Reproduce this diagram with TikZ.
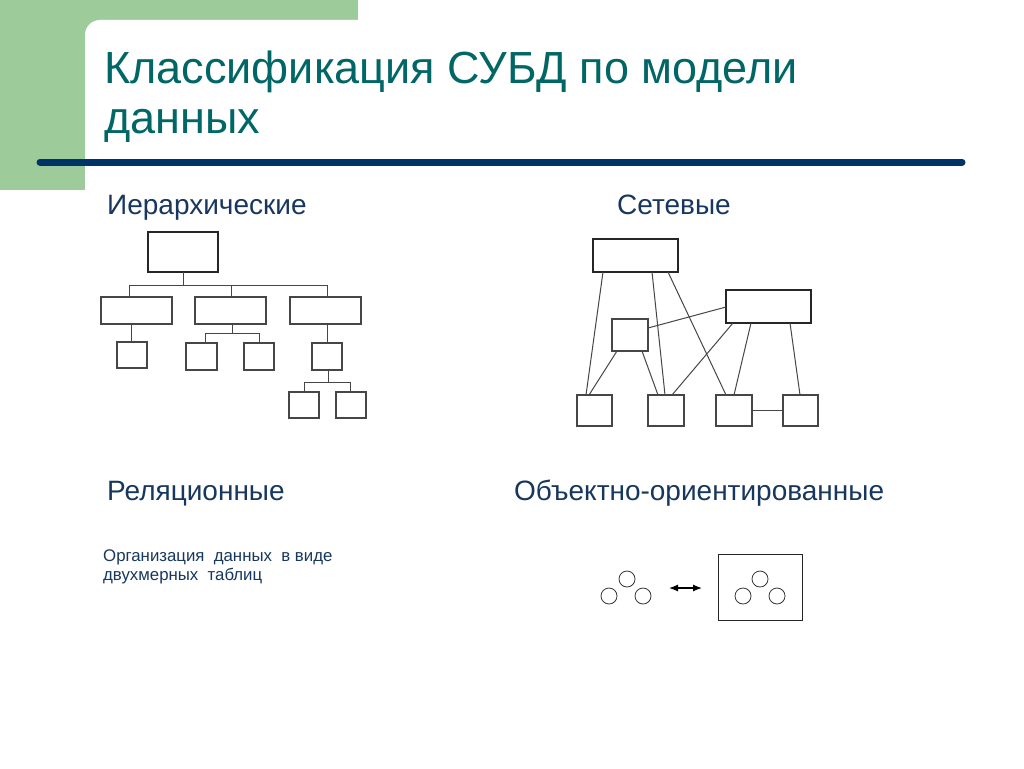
\documentclass[tikz,border=0pt]{standalone}
\usepackage{fontspec}
\setmainfont{Liberation Sans}
\usetikzlibrary{arrows.meta}
\definecolor{bggreen}{RGB}{157,204,154}
\definecolor{titleteal}{RGB}{0,102,102}
\definecolor{headblue}{RGB}{23,55,94}
\definecolor{rulenavy}{RGB}{0,51,102}
\definecolor{boxgray}{RGB}{70,70,70}
\tikzset{
  box/.style={draw=boxgray, line width=1.1pt},
  thickbox/.style={draw=black!85, line width=2pt},
  link/.style={draw=boxgray, line width=1pt},
  head/.style={anchor=base west, inner sep=0pt, text=headblue, font=\fontsize{28}{32}\selectfont},
  small/.style={anchor=base west, inner sep=0pt, text=headblue, font=\fontsize{16.8}{19}\selectfont},
  obj/.style={circle, draw=black!80, line width=0.8pt, minimum size=16pt, inner sep=0pt},
}
\begin{document}
\begin{tikzpicture}[x=1pt,y=-1pt]
\useasboundingbox (0,0) rectangle (1024,768);
\fill[white] (0,0) rectangle (1024,768);
% background decoration
\fill[bggreen] (0,0) rectangle (358,190);
\fill[white, rounded corners=15pt] (85,768) -- (85,20) -- (1024,20) -- (1024,768) -- cycle;
\draw[rulenavy, line width=7pt, line cap=round] (40,162) -- (962,162);
% title
\node[anchor=base west, inner sep=0pt, text=titleteal, font=\fontsize{45}{50}\selectfont] (t1) at (104,83) {Классификация СУБД по модели};
\node[anchor=base west, inner sep=0pt, text=titleteal, font=\fontsize{45}{50}\selectfont] (t2) at (104,133) {данных};
% headings
\node[head] (h1) at (107,214) {Иерархические};
\node[head] (h2) at (617,214) {Сетевые};
\node[head] (h3) at (107,500) {Реляционные};
\node[head] (h4) at (514,500) {Объектно-ориентированные};
\node[small] (rel1) at (103,561) {Организация\ \ данных\ \ в виде};
\node[small] (rel2) at (103,580) {двухмерных\ \ таблиц};

% ---------- hierarchical ----------
\draw[thickbox] (148,232) rectangle (218,272);
\draw[box] (101,297) rectangle (172,324);
\draw[box] (195,297) rectangle (266,324);
\draw[box] (290,297) rectangle (361,324);
\draw[link] (183,272) -- (183,285);
\draw[link] (129,297) -- (129,285) -- (327,285) -- (327,297);
\draw[link] (231,285) -- (231,297);
\draw[box] (117,342) rectangle (147,368);
\draw[link] (131,324) -- (131,342);
\draw[box] (186,343) rectangle (217,370);
\draw[box] (244,343) rectangle (274,370);
\draw[link] (232,324) -- (232,333);
\draw[link] (205,343) -- (205,333) -- (259,333) -- (259,343);
\draw[box] (312,343) rectangle (342,370);
\draw[link] (327,324) -- (327,343);
\draw[link] (328,370) -- (328,382);
\draw[link] (304,392) -- (304,382) -- (350,382) -- (350,392);
\draw[box] (289,392) rectangle (319,418);
\draw[box] (336,392) rectangle (366,418);

% ---------- network ----------
\draw[thickbox] (593,239) rectangle (678,272);
\draw[thickbox] (726,290) rectangle (811,323);
\draw[box] (612,319) rectangle (648,351);
\draw[box] (577,395) rectangle (612,426);
\draw[box] (648,395) rectangle (684,426);
\draw[box] (716,395) rectangle (752,426);
\draw[box] (783,395) rectangle (818,426);
\draw[link] (603,272) -- (586,395);
\draw[link] (652,272) -- (665,395);
\draw[link] (668,272) -- (726,395);
\draw[link] (648,328) -- (726,307);
\draw[link] (617,351) -- (589,395);
\draw[link] (642,351) -- (658,395);
\draw[link] (733,323) -- (672,395);
\draw[link] (751,323) -- (734,395);
\draw[link] (790,323) -- (800,395);
\draw[link] (752,410) -- (783,410);

% ---------- object-oriented ----------
\node[obj] (c1) at (627,579) {};
\node[obj] (c2) at (609,596) {};
\node[obj] (c3) at (643,596) {};
\draw[line width=1.2pt, {Latex[length=9pt,width=7pt]}-{Latex[length=9pt,width=7pt]}] (669,588) -- (702,588);
\draw[line width=1pt, draw=black!85] (718,554) rectangle (802,620);
\node[obj] (c4) at (760,579) {};
\node[obj] (c5) at (743,596) {};
\node[obj] (c6) at (777,596) {};
\end{tikzpicture}
\end{document}
